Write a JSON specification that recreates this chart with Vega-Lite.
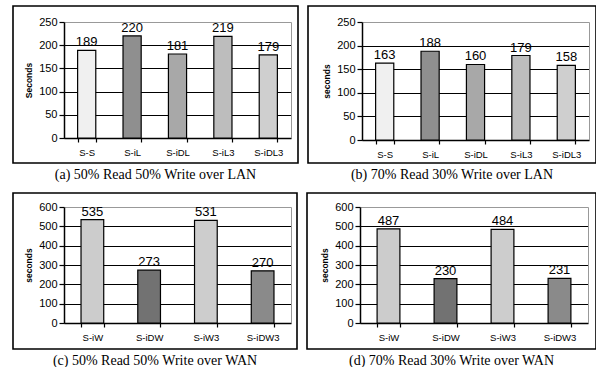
{
  "$schema": "https://vega.github.io/schema/vega-lite/v6.json",
  "padding": {"left": 12, "top": 5, "right": 0, "bottom": 0},
  "autosize": {"type": "pad"},
  "background": "white",
  "datasets": {
    "lan50": [
      {"cat": "S-S", "sec": 189}, {"cat": "S-iL", "sec": 220}, {"cat": "S-iDL", "sec": 181}, {"cat": "S-iL3", "sec": 219}, {"cat": "S-iDL3", "sec": 179}
    ],
    "lan70": [
      {"cat": "S-S", "sec": 163}, {"cat": "S-iL", "sec": 188}, {"cat": "S-iDL", "sec": 160}, {"cat": "S-iL3", "sec": 179}, {"cat": "S-iDL3", "sec": 158}
    ],
    "wan50": [
      {"cat": "S-iW", "sec": 535}, {"cat": "S-iDW", "sec": 273}, {"cat": "S-iW3", "sec": 531}, {"cat": "S-iDW3", "sec": 270}
    ],
    "wan70": [
      {"cat": "S-iW", "sec": 487}, {"cat": "S-iDW", "sec": 230}, {"cat": "S-iW3", "sec": 484}, {"cat": "S-iDW3", "sec": 231}
    ]
  },
  "config": {
    "view": {"stroke": "black", "strokeWidth": 1.6},
    "axis": {
      "labelFont": "Liberation Sans", "titleFont": "Liberation Sans",
      "labelColor": "black", "titleColor": "black",
      "domainColor": "black", "tickColor": "black", "gridColor": "black",
      "gridOpacity": 1, "gridWidth": 1.2, "domainWidth": 1.5, "tickWidth": 1.2
    },
    "title": {"font": "Liberation Serif", "fontSize": 14, "fontWeight": "normal", "color": "black"}
  },
  "spacing": 9,
  "vconcat": [
    {
      "spacing": 8,
      "hconcat": [
        {
          "width": 285, "height": 157,
          "title": {"text": "(a) 50% Read 50% Write over LAN", "orient": "bottom", "baseline": "top", "offset": 5},
          "data": {"name": "lan50"},
          "resolve": {"axis": {"y": "independent"}},
          "layer": [
            {
              "mark": {"type": "bar", "stroke": "black", "strokeWidth": 1.2},
              "encoding": {
                "x": {"field": "cat", "type": "nominal", "sort": null,
                  "scale": {"range": [51, 278], "paddingInner": 0.6, "paddingOuter": 0.3},
                  "axis": {"orient": "bottom", "offset": -25, "tickBand": "extent", "tickSize": 4, "labelPadding": 5, "labelFontSize": 9.5, "labelAngle": 0, "title": null}},
                "y": {"field": "sec", "type": "quantitative",
                  "scale": {"domain": [0, 250], "range": [132, 16], "nice": false},
                  "axis": {"orient": "left", "offset": -51, "values": [0, 50, 100, 150, 200, 250], "tickSize": 5, "labelPadding": 2, "labelFontSize": 11, "title": "Seconds", "titleFontSize": 8.5, "titleFontWeight": "bold", "titlePadding": 5, "grid": true, "gridColor": {"condition": {"test": "datum.value === 250", "value": "#999999"}, "value": "black"}}},
                "fill": {"field": "cat", "type": "nominal", "legend": null,
                  "scale": {"domain": ["S-S", "S-iL", "S-iDL", "S-iL3", "S-iDL3", "S-iW", "S-iDW", "S-iW3", "S-iDW3"],
                            "range": ["#f0f0f0", "#8f8f8f", "#a8a8a8", "#bdbdbd", "#cfcfcf", "#cccccc", "#727272", "#cdcdcd", "#8a8a8a"]}}
              }
            },
            {
              "mark": {"type": "text", "font": "Liberation Sans", "fontSize": 13, "dy": -4, "baseline": "alphabetic", "color": "black"},
              "encoding": {
                "x": {"field": "cat", "type": "nominal", "sort": null},
                "y": {"field": "sec", "type": "quantitative",
                  "axis": {"orient": "right", "offset": -7, "labels": false, "ticks": false, "grid": false, "title": null, "domainColor": "#999999", "domainWidth": 1}},
                "text": {"field": "sec", "type": "quantitative"}
              }
            }
          ]
        },
        {
          "width": 288, "height": 157,
          "title": {"text": "(b) 70% Read 30% Write over LAN", "orient": "bottom", "baseline": "top", "offset": 5},
          "data": {"name": "lan70"},
          "resolve": {"axis": {"y": "independent"}},
          "layer": [
            {
              "mark": {"type": "bar", "stroke": "black", "strokeWidth": 1.2},
              "encoding": {
                "x": {"field": "cat", "type": "nominal", "sort": null,
                  "scale": {"range": [54, 281], "paddingInner": 0.6, "paddingOuter": 0.3},
                  "axis": {"orient": "bottom", "offset": -23, "tickBand": "extent", "tickSize": 4, "labelPadding": 5, "labelFontSize": 9.5, "labelAngle": 0, "title": null}},
                "y": {"field": "sec", "type": "quantitative",
                  "scale": {"domain": [0, 250], "range": [134, 16], "nice": false},
                  "axis": {"orient": "left", "offset": -54, "values": [0, 50, 100, 150, 200, 250], "tickSize": 5, "labelPadding": 2, "labelFontSize": 11, "title": "seconds", "titleFontSize": 8.5, "titleFontWeight": "bold", "titlePadding": 5, "grid": true, "gridColor": {"condition": {"test": "datum.value === 250", "value": "#999999"}, "value": "black"}}},
                "fill": {"field": "cat", "type": "nominal", "legend": null,
                  "scale": {"domain": ["S-S", "S-iL", "S-iDL", "S-iL3", "S-iDL3", "S-iW", "S-iDW", "S-iW3", "S-iDW3"],
                            "range": ["#f0f0f0", "#8f8f8f", "#a8a8a8", "#bdbdbd", "#cfcfcf", "#cccccc", "#727272", "#cdcdcd", "#8a8a8a"]}}
              }
            },
            {
              "mark": {"type": "text", "font": "Liberation Sans", "fontSize": 13, "dy": -4, "baseline": "alphabetic", "color": "black"},
              "encoding": {
                "x": {"field": "cat", "type": "nominal", "sort": null},
                "y": {"field": "sec", "type": "quantitative",
                  "axis": {"orient": "right", "offset": -7, "labels": false, "ticks": false, "grid": false, "title": null, "domainColor": "#999999", "domainWidth": 1}},
                "text": {"field": "sec", "type": "quantitative"}
              }
            }
          ]
        }
      ]
    },
    {
      "spacing": 8,
      "hconcat": [
        {
          "width": 284, "height": 156,
          "title": {"text": "(c) 50% Read 50% Write over WAN", "orient": "bottom", "baseline": "top", "offset": 5},
          "data": {"name": "wan50"},
          "resolve": {"axis": {"y": "independent"}},
          "layer": [
            {
              "mark": {"type": "bar", "stroke": "black", "strokeWidth": 1.2},
              "encoding": {
                "x": {"field": "cat", "type": "nominal", "sort": null,
                  "scale": {"range": [51, 278], "paddingInner": 0.6, "paddingOuter": 0.3},
                  "axis": {"orient": "bottom", "offset": -26, "tickBand": "extent", "tickSize": 4, "labelPadding": 5, "labelFontSize": 9.5, "labelAngle": 0, "title": null}},
                "y": {"field": "sec", "type": "quantitative",
                  "scale": {"domain": [0, 600], "range": [130, 14], "nice": false},
                  "axis": {"orient": "left", "offset": -51, "values": [0, 100, 200, 300, 400, 500, 600], "tickSize": 5, "labelPadding": 2, "labelFontSize": 11, "title": "seconds", "titleFontSize": 8.5, "titleFontWeight": "bold", "titlePadding": 5, "grid": true, "gridColor": {"condition": {"test": "datum.value === 600", "value": "#999999"}, "value": "black"}}},
                "fill": {"field": "cat", "type": "nominal", "legend": null,
                  "scale": {"domain": ["S-S", "S-iL", "S-iDL", "S-iL3", "S-iDL3", "S-iW", "S-iDW", "S-iW3", "S-iDW3"],
                            "range": ["#f0f0f0", "#8f8f8f", "#a8a8a8", "#bdbdbd", "#cfcfcf", "#cccccc", "#727272", "#cdcdcd", "#8a8a8a"]}}
              }
            },
            {
              "mark": {"type": "text", "font": "Liberation Sans", "fontSize": 13, "dy": -4, "baseline": "alphabetic", "color": "black"},
              "encoding": {
                "x": {"field": "cat", "type": "nominal", "sort": null},
                "y": {"field": "sec", "type": "quantitative",
                  "axis": {"orient": "right", "offset": -6, "labels": false, "ticks": false, "grid": false, "title": null, "domainColor": "#999999", "domainWidth": 1}},
                "text": {"field": "sec", "type": "quantitative"}
              }
            }
          ]
        },
        {
          "width": 289, "height": 156,
          "title": {"text": "(d) 70% Read 30% Write over WAN", "orient": "bottom", "baseline": "top", "offset": 5},
          "data": {"name": "wan70"},
          "resolve": {"axis": {"y": "independent"}},
          "layer": [
            {
              "mark": {"type": "bar", "stroke": "black", "strokeWidth": 1.2},
              "encoding": {
                "x": {"field": "cat", "type": "nominal", "sort": null,
                  "scale": {"range": [53, 281], "paddingInner": 0.6, "paddingOuter": 0.3},
                  "axis": {"orient": "bottom", "offset": -26, "tickBand": "extent", "tickSize": 4, "labelPadding": 5, "labelFontSize": 9.5, "labelAngle": 0, "title": null}},
                "y": {"field": "sec", "type": "quantitative",
                  "scale": {"domain": [0, 600], "range": [130, 14], "nice": false},
                  "axis": {"orient": "left", "offset": -53, "values": [0, 100, 200, 300, 400, 500, 600], "tickSize": 5, "labelPadding": 2, "labelFontSize": 11, "title": "seconds", "titleFontSize": 8.5, "titleFontWeight": "bold", "titlePadding": 5, "grid": true, "gridColor": {"condition": {"test": "datum.value === 600", "value": "#999999"}, "value": "black"}}},
                "fill": {"field": "cat", "type": "nominal", "legend": null,
                  "scale": {"domain": ["S-S", "S-iL", "S-iDL", "S-iL3", "S-iDL3", "S-iW", "S-iDW", "S-iW3", "S-iDW3"],
                            "range": ["#f0f0f0", "#8f8f8f", "#a8a8a8", "#bdbdbd", "#cfcfcf", "#cccccc", "#727272", "#cdcdcd", "#8a8a8a"]}}
              }
            },
            {
              "mark": {"type": "text", "font": "Liberation Sans", "fontSize": 13, "dy": -4, "baseline": "alphabetic", "color": "black"},
              "encoding": {
                "x": {"field": "cat", "type": "nominal", "sort": null},
                "y": {"field": "sec", "type": "quantitative",
                  "axis": {"orient": "right", "offset": -8, "labels": false, "ticks": false, "grid": false, "title": null, "domainColor": "#999999", "domainWidth": 1}},
                "text": {"field": "sec", "type": "quantitative"}
              }
            }
          ]
        }
      ]
    }
  ]
}
